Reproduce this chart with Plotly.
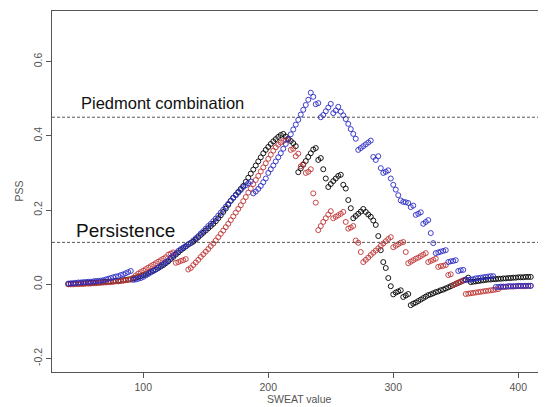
import plotly.graph_objects as go

# SWEAT thresholds (every 2 units)
sweat = list(range(40, 411, 2))

black_pss = [
    0.001, 0.001, 0.002, 0.002, 0.002, 0.003, 0.003, 0.003, 0.004, 0.004,   # 40
    0.004, 0.005, 0.005, 0.006, 0.006, 0.007, 0.007, 0.008, 0.008, 0.009,   # 60
    0.009, 0.010, 0.011, 0.012, 0.013, 0.014, 0.016, 0.018, 0.020, 0.022,   # 80
    0.025, 0.028, 0.031, 0.034, 0.037, 0.040, 0.044, 0.048, 0.052, 0.057,   # 100
    0.062, 0.068, 0.074, 0.080, 0.086, 0.092, 0.097, 0.102, 0.107, 0.111,   # 120
    0.115, 0.121, 0.127, 0.133, 0.139, 0.145, 0.151, 0.157, 0.163, 0.170,   # 140
    0.178, 0.186, 0.195, 0.204, 0.214, 0.225, 0.233, 0.241, 0.249, 0.257,   # 160
    0.265, 0.276, 0.287, 0.298, 0.309, 0.320, 0.331, 0.342, 0.353, 0.362,   # 180
    0.370, 0.378, 0.385, 0.391, 0.397, 0.402, 0.405, 0.398, 0.392, 0.386,   # 200
    0.380, 0.372, 0.302, 0.312, 0.322, 0.332, 0.343, 0.353, 0.363, 0.367,   # 220
    0.335, 0.340, 0.310, 0.285, 0.262, 0.270, 0.278, 0.285, 0.292, 0.295,   # 240
    0.268, 0.258, 0.227, 0.205, 0.178, 0.184, 0.190, 0.196, 0.203, 0.195,   # 260
    0.188, 0.182, 0.172, 0.160, 0.130, 0.092, 0.060, 0.044, 0.017, -0.005,  # 280
    -0.027, -0.022, -0.019, -0.016, -0.034, -0.030, -0.026, -0.056, -0.052, -0.049,  # 300
    -0.045, -0.041, -0.037, -0.033, -0.029, -0.027, -0.024, -0.021, -0.019, -0.016,  # 320
    -0.014, -0.011, -0.008, -0.005, -0.002, 0.001, 0.004, 0.007, 0.010, 0.013,  # 340
    0.018, 0.006, 0.007, 0.008, 0.009, 0.010, 0.011, 0.012, 0.013, 0.013,   # 360
    0.014, 0.014, 0.015, 0.015, 0.016, 0.016, 0.017, 0.017, 0.018, 0.018,   # 380
    0.019, 0.019, 0.019, 0.020, 0.020, 0.020,                               # 400
]

red_pss = [
    0.000, 0.000, 0.000, 0.001, 0.001, 0.001, 0.001, 0.002, 0.002, 0.002,   # 40
    0.003, 0.003, 0.004, 0.004, 0.005, 0.005, 0.006, 0.006, 0.007, 0.008,   # 60
    0.008, 0.009, 0.010, 0.011, 0.012, 0.013, 0.018, 0.024, 0.029, 0.033,   # 80
    0.037, 0.041, 0.045, 0.049, 0.053, 0.057, 0.061, 0.065, 0.069, 0.073,   # 100
    0.080, 0.083, 0.086, 0.058, 0.060, 0.063, 0.065, 0.068, 0.040, 0.044,   # 120
    0.052, 0.059, 0.066, 0.074, 0.081, 0.088, 0.095, 0.103, 0.110, 0.118,   # 140
    0.127, 0.136, 0.145, 0.154, 0.163, 0.173, 0.183, 0.193, 0.203, 0.213,   # 160
    0.224, 0.235, 0.247, 0.258, 0.270, 0.281, 0.292, 0.304, 0.315, 0.326,   # 180
    0.338, 0.349, 0.360, 0.369, 0.376, 0.382, 0.386, 0.389, 0.390, 0.362,   # 200
    0.365, 0.345, 0.352, 0.318, 0.324, 0.300, 0.303, 0.310, 0.245, 0.220,   # 220
    0.146, 0.157, 0.168, 0.178, 0.188, 0.197, 0.178, 0.182, 0.186, 0.190,   # 240
    0.195, 0.168, 0.150, 0.153, 0.157, 0.118, 0.112, 0.087, 0.060, 0.066,   # 260
    0.072, 0.079, 0.085, 0.091, 0.097, 0.104, 0.110, 0.116, 0.122, 0.127,   # 280
    0.100, 0.104, 0.108, 0.112, 0.114, 0.087, 0.057, 0.061, 0.065, 0.069,   # 300
    0.072, 0.076, 0.080, 0.084, 0.060, 0.063, 0.066, 0.069, 0.047, 0.049,   # 320
    0.050, 0.052, 0.025, 0.027, -0.002, 0.002, 0.005, 0.008, 0.011, -0.026,  # 340
    -0.025, -0.024, -0.023, -0.022, -0.021, -0.020, -0.019, -0.018, -0.017, -0.016,  # 360
    -0.015, -0.014, -0.013, -0.008, -0.007, -0.007, -0.006, -0.006, -0.006, -0.005,  # 380
    -0.005, -0.005, -0.005, -0.005, -0.004, -0.004,                         # 400
]

blue_pss = [
    0.002, 0.003, 0.003, 0.004, 0.005, 0.005, 0.006, 0.006, 0.007, 0.007,   # 40
    0.008, 0.009, 0.009, 0.010, 0.011, 0.013, 0.015, 0.017, 0.019, 0.021,   # 60
    0.022, 0.025, 0.027, 0.030, 0.033, 0.036, 0.012, 0.013, 0.015, 0.017,   # 80
    0.020, 0.024, 0.028, 0.032, 0.036, 0.040, 0.045, 0.050, 0.055, 0.060,   # 100
    0.064, 0.072, 0.078, 0.083, 0.090, 0.095, 0.099, 0.103, 0.108, 0.112,   # 120
    0.118, 0.124, 0.130, 0.137, 0.143, 0.150, 0.157, 0.163, 0.170, 0.177,   # 140
    0.185, 0.193, 0.201, 0.209, 0.217, 0.225, 0.233, 0.240, 0.247, 0.254,   # 160
    0.262, 0.267, 0.272, 0.277, 0.245, 0.250, 0.257, 0.265, 0.275, 0.285,   # 180
    0.300, 0.310, 0.320, 0.331, 0.342, 0.353, 0.365, 0.378, 0.391, 0.404,   # 200
    0.417, 0.430, 0.443, 0.457, 0.470, 0.483, 0.497, 0.516, 0.505, 0.485,   # 220
    0.488, 0.450, 0.456, 0.466, 0.476, 0.486, 0.461, 0.468, 0.478, 0.465,   # 240
    0.455, 0.445, 0.432, 0.418, 0.405, 0.392, 0.362, 0.367, 0.372, 0.377,   # 260
    0.382, 0.387, 0.343, 0.335, 0.345, 0.313, 0.300, 0.303, 0.307, 0.285,   # 280
    0.268, 0.255, 0.240, 0.226, 0.222, 0.221, 0.219, 0.208, 0.212, 0.187,   # 300
    0.190, 0.194, 0.163, 0.168, 0.173, 0.138, 0.111, 0.084, 0.086, 0.088,   # 320
    0.090, 0.092, 0.060, 0.062, 0.063, 0.065, 0.036, 0.038, 0.039, 0.012,   # 340
    0.012, 0.013, 0.014, 0.016, 0.017, 0.018, 0.019, 0.020, 0.021, 0.022,   # 360
    0.022, -0.007, -0.007, -0.006, -0.006, -0.006, -0.005, -0.005, -0.005, -0.005,  # 380
    -0.004, -0.004, -0.004, -0.004, -0.004, -0.004,                         # 400
]

assert len(black_pss) == len(sweat) == len(red_pss) == len(blue_pss)

ref_lines = [("Piedmont combination", 0.45), ("Persistence", 0.113)]
y_ticks = [-0.2, 0.0, 0.2, 0.4, 0.6]
x_ticks = [100, 200, 300, 400]

FONT = "Liberation Sans, Arial, sans-serif"
fig = go.Figure()

for name, vals, col in [("black", black_pss, "#000000"),
                        ("red", red_pss, "#c03434"),
                        ("blue", blue_pss, "#2a2ac4")]:
    fig.add_trace(go.Scatter(
        x=sweat, y=vals, mode="markers", name=name,
        marker=dict(symbol="circle-open", size=5, color=col, line=dict(width=0.9, color=col)),
        showlegend=False, cliponaxis=True,
    ))

for label, yv in ref_lines:
    fig.add_shape(type="line", xref="paper", x0=0, x1=1, yref="y", y0=yv, y1=yv,
                  line=dict(color="#444444", width=0.9, dash="3px,2px"))

fig.add_annotation(x=115.4, y=0.488, xref="x", yref="y", text="Piedmont combination",
                   showarrow=False, font=dict(family=FONT, size=16.5, color="#111111"),
                   xanchor="center", yanchor="middle")
fig.add_annotation(x=85.4, y=0.146, xref="x", yref="y", text="Persistence",
                   showarrow=False, font=dict(family=FONT, size=19, color="#111111"),
                   xanchor="center", yanchor="middle")

fig.add_annotation(x=0.5, y=0, xref="paper", yref="paper", text="SWEAT value",
                   showarrow=False, font=dict(family=FONT, size=10.5, color="#555555"),
                   xanchor="center", yanchor="middle", yshift=-27)
fig.add_annotation(x=0, y=0.5, xref="paper", yref="paper", text="PSS",
                   showarrow=False, font=dict(family=FONT, size=10.5, color="#555555"),
                   xanchor="center", yanchor="middle", xshift=-34, textangle=-90)

fig.update_xaxes(range=[26.96, 422.2], tickvals=x_ticks, ticktext=[str(v) for v in x_ticks],
                 showgrid=False, zeroline=False, showline=True, linecolor="#555555", linewidth=1,
                 mirror=True, ticks="outside", ticklen=5, tickcolor="#555555",
                 tickfont=dict(family=FONT, size=10.5, color="#555555"))
fig.update_yaxes(range=[-0.236, 0.736], tickvals=y_ticks, ticktext=["-0.2", "0.0", "0.2", "0.4", "0.6"],
                 showgrid=False, zeroline=False, showline=True, linecolor="#555555", linewidth=1,
                 mirror=False, ticks="outside", ticklen=5, tickcolor="#555555", tickangle=-90,
                 tickfont=dict(family=FONT, size=10.5, color="#555555"))

# page body adds an 8px offset; margins compensate so the plot box lands where the reference has it
fig.update_layout(width=546, height=407, margin=dict(l=44, r=8, t=3, b=43),
                  paper_bgcolor="white", plot_bgcolor="white")

fig.write_html("out.html")
